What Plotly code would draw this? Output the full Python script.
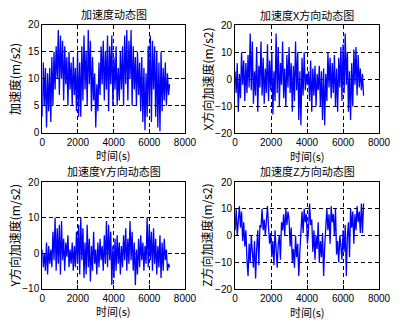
import plotly.graph_objects as go

step = 60
acc = [3, 13, 5, 12, 1, 11, 4, 12, 2, 14, 5, 15, 8, 16, 10, 19, 7, 18, 10, 17,
       6, 16, 9, 14, 5, 15, 8, 13, 5, 14, 7, 12, 4, 15, 3, 13, 3, 16, 6, 18,
       8, 15, 5, 19, 9, 17, 4, 14, 6, 11, 1, 9, 4, 13, 7, 16, 9, 17, 6, 15,
       8, 18, 4, 16, 9, 18, 5, 14, 8, 16, 5, 12, 6, 15, 8, 16, 5, 18, 9, 19,
       6, 17, 10, 19, 5, 16, 8, 14, 5, 15, 7, 13, 4, 14, 2, 12, 0.5, 11, 3, 16,
       5, 18, 2, 17, 8, 16, 3, 15, 1, 13, 0.3, 15, 4, 12, 6, 13, 5, 11, 7, 9]
acc_x = [3, -5, 6, -12, 2, -7, 10, -2, 7, -8, 6, -5, 9, -3, 17, -4, 14, -9, 3, -6,
         12, -12, 5, -3, 14, -6, 8, -9, 4, -5, 13, -8, 7, -4, 10, -13, 3, -8, 17, -5,
         12, -10, 6, -2, 14, -7, 4, -10, 9, -3, 12, -5, 6, -12, 5, -8, 14, -4, 10, -15,
         3, -17, 8, -6, 10, -4, 2, -2, 3, -8, 7, -12, 4, -6, 5, -10, 2, -4, 5, -10,
         3, -15, 4, -17, 2, -8, 10, -3, 8, -7, 6, -5, 9, -10, 4, -12, 8, -3, 12, -8,
         13, -5, 17, -2, 10, -12, 3, -15, 6, -10, 11, -2, 12, -6, 9, -3, 4, -4, 2, -6]
acc_y = [1, -4, 0, -5, 3, -6, 2, -3, 1, -4, 6, -2, 10, -5, 7, -3, 8, -6, 9, -2,
         4, -5, 3, -1, 5, -4, 1, -3, 3, -5, 2, -4, 6, -3, 8, -6, 10, -2, 7, -7,
         3, -6, 8, -4, 4, -8, 2, -5, 6, -3, 1, -6, 3, -4, 4, -2, 2, -5, 5, -3,
         9, -4, 8, -2, 6, -9, 2, -7, 4, -5, 5, -3, 3, -6, 2, -4, 5, -2, 7, -5,
         4, -3, 9, -2, 6, -5, 3, -9, 1, -6, 4, -4, 5, -2, 3, -5, 2, -3, 10, -4,
         8, -2, 6, -5, 7, -3, 4, -6, 2, -4, 5, -7, 3, -5, 4, -2, 1, -5, -3, -4]
acc_z = [2, 10, 0, 5, 11, 3, 9, -2, 5, -4, 2, -9, -15, -3, -10, 0, -8, -12, -2, -16,
         -5, 2, -11, 4, 3, 10, 2, 6, 0, 8, 11, 3, -3, 1, -8, -2, -11, 2, -6, -12,
         -3, 0, -9, 5, 2, 8, 0, 10, 4, 9, 6, -4, 3, -10, -5, -12, 0, -8, -3, -15,
         -6, 3, 9, 1, 10, 5, 8, -3, 2, 12, 4, 6, -6, 2, -9, 0, -5, 5, -10, -2,
         -8, 1, -15, -4, 3, 10, 2, 8, -3, 11, 5, 8, 0, 10, -7, -2, -10, 0, -4, -9,
         2, -6, 4, -15, 0, 5, -8, 10, 3, 9, -3, 8, 2, 11, 5, 9, 1, 12, 1, 12]
times = [i * step for i in range(len(acc))]

titles = ["加速度动态图", "加速度X方向动态图", "加速度Y方向动态图", "加速度Z方向动态图"]
ylabels = ["加速度(m/s2)", "X方向加速度(m/s2)", "Y方向加速度(m/s2)", "Z方向加速度(m/s2)"]
xlabel = "时间(s)"
xticks = [0, 2000, 4000, 6000, 8000]
yticks_list = [[0, 5, 10, 15, 20], [-20, -10, 0, 10, 20], [-10, 0, 10, 20], [-20, -10, 0, 10, 20]]
series = [acc, acc_x, acc_y, acc_z]

W, H = 419, 329
# pixel boxes: left, right, top, bottom
boxes = [(40.7, 188.7, 19.3, 131.7), (240.7, 390, 20, 132.3),
         (40.7, 188.7, 182.7, 293.3), (240.7, 390, 182.7, 294)]

CJK = "Noto Sans CJK SC"
NUM = "Liberation Sans, Arial"

fig = go.Figure()
annotations = []
layout_axes = {}
for i, (s, box) in enumerate(zip(series, boxes)):
    l, r, t, b = box
    xa = "x" if i == 0 else f"x{i+1}"
    ya = "y" if i == 0 else f"y{i+1}"
    fig.add_trace(go.Scatter(x=times, y=s, mode="lines", line=dict(color="#0000ff", width=1.3),
                             xaxis=xa, yaxis=ya, showlegend=False, hoverinfo="skip"))
    yt = yticks_list[i]
    common = dict(showline=True, linecolor="black", linewidth=1, mirror="ticks", ticks="inside",
                  ticklen=4, tickcolor="black", showgrid=True, gridcolor="black", griddash="4px,3px",
                  gridwidth=1, zeroline=False, tickfont=dict(family=NUM, size=10, color="black"))
    layout_axes["xaxis" if i == 0 else f"xaxis{i+1}"] = dict(
        domain=[l / W, r / W], range=[0, 8000], tickvals=xticks, anchor=ya, **common)
    layout_axes["yaxis" if i == 0 else f"yaxis{i+1}"] = dict(
        domain=[1 - b / H, 1 - t / H], range=[yt[0], yt[-1]], tickvals=yt, anchor=xa, **common)
    cx = (l + r) / 2
    annotations.append(dict(text=titles[i], x=cx / W, y=1 - (t - 11) / H, xref="paper", yref="paper",
                            showarrow=False, font=dict(family=CJK, size=11, color="black"),
                            xanchor="center", yanchor="middle"))
    annotations.append(dict(text=xlabel, x=cx / W, y=1 - (b + 23.2) / H, xref="paper", yref="paper",
                            showarrow=False, font=dict(family=CJK, size=11, color="black"),
                            xanchor="center", yanchor="middle"))
    annotations.append(dict(text=ylabels[i], x=(l - 29) / W, y=1 - ((t + b) / 2) / H,
                            xref="paper", yref="paper", textangle=-90,
                            showarrow=False, font=dict(family=CJK, size=12, color="black"),
                            xanchor="center", yanchor="middle"))

fig.update_layout(width=W, height=H, margin=dict(l=0, r=0, t=0, b=0),
                  paper_bgcolor="white", plot_bgcolor="white",
                  annotations=annotations, **layout_axes)
fig.write_html("out.html")
